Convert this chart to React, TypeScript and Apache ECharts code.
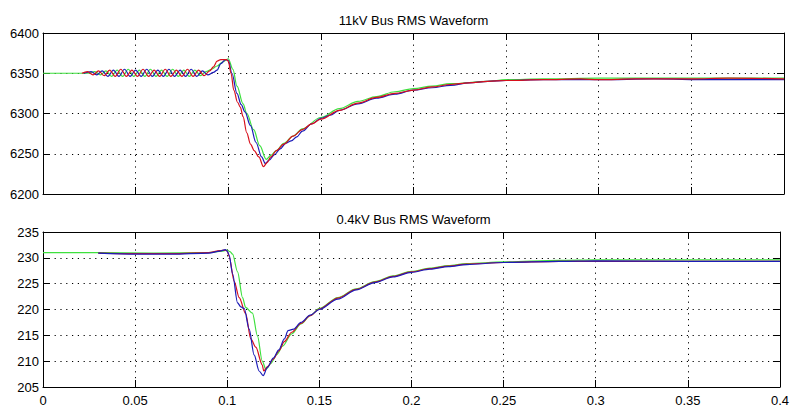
import React, { useEffect, useRef } from "react";
import * as echarts from "echarts";

const xTicks = { min: 0, max: 0.4, interval: 0.05 };
const topTitle = "11kV Bus RMS Waveform";
const bottomTitle = "0.4kV Bus RMS Waveform";

const redTop: number[][] = [
  [0.021, 6350], [0.024, 6352], [0.027, 6348], [0.030, 6353], [0.033, 6347], [0.036, 6354], [0.039, 6346],
  [0.042, 6355], [0.045, 6346], [0.048, 6354], [0.051, 6346], [0.054, 6355], [0.057, 6346], [0.060, 6354],
  [0.063, 6346], [0.066, 6355], [0.069, 6346], [0.072, 6354], [0.075, 6346], [0.078, 6355], [0.081, 6346],
  [0.084, 6354], [0.087, 6347], [0.090, 6353], [0.092, 6358], [0.094, 6365], [0.096, 6367], [0.099, 6367],
  [0.100, 6365], [0.1015, 6350], [0.103, 6329], [0.105, 6314], [0.1065, 6308], [0.108, 6296], [0.110, 6276],
  [0.112, 6262], [0.114, 6254], [0.1165, 6246], [0.119, 6234], [0.121, 6239], [0.123, 6246], [0.126, 6254],
  [0.13, 6262], [0.135, 6272], [0.14, 6280], [0.145, 6287], [0.15, 6293], [0.16, 6304], [0.17, 6313],
  [0.18, 6320], [0.19, 6325], [0.2, 6329], [0.21, 6333], [0.22, 6336], [0.23, 6338], [0.24, 6340],
  [0.25, 6341], [0.27, 6342], [0.29, 6343], [0.3, 6342], [0.32, 6343], [0.35, 6343], [0.37, 6344], [0.4, 6343],
];

const blueTop: number[][] = [
  [0.022, 6350], [0.026, 6352], [0.029, 6348], [0.032, 6353], [0.035, 6346], [0.038, 6354], [0.041, 6346],
  [0.044, 6355], [0.047, 6346], [0.050, 6354], [0.053, 6346], [0.056, 6355], [0.059, 6346], [0.062, 6354],
  [0.065, 6346], [0.068, 6355], [0.071, 6346], [0.074, 6354], [0.077, 6346], [0.080, 6355], [0.083, 6346],
  [0.086, 6353], [0.089, 6348], [0.092, 6351], [0.094, 6354], [0.096, 6362], [0.0985, 6367], [0.1, 6366],
  [0.102, 6350], [0.1047, 6325], [0.107, 6311], [0.109, 6302], [0.112, 6285], [0.115, 6264], [0.118, 6246],
  [0.12, 6238], [0.122, 6242], [0.125, 6249], [0.128, 6256], [0.131, 6263], [0.134, 6266], [0.137, 6271],
  [0.14, 6278], [0.145, 6287], [0.15, 6294], [0.155, 6298], [0.16, 6304], [0.17, 6312], [0.18, 6319],
  [0.19, 6324], [0.2, 6329], [0.21, 6332], [0.22, 6335], [0.23, 6338], [0.24, 6340], [0.25, 6341],
  [0.27, 6342], [0.3, 6342], [0.33, 6343], [0.36, 6342], [0.4, 6342],
];

const greenTop: number[][] = [
  [0, 6350], [0.024, 6350], [0.028, 6352], [0.031, 6348], [0.034, 6353], [0.037, 6346], [0.040, 6354],
  [0.043, 6346], [0.046, 6355], [0.049, 6346], [0.052, 6354], [0.055, 6346], [0.058, 6355], [0.061, 6346],
  [0.064, 6354], [0.067, 6346], [0.070, 6355], [0.073, 6346], [0.076, 6354], [0.079, 6346], [0.082, 6354],
  [0.085, 6347], [0.088, 6352], [0.091, 6355], [0.094, 6359], [0.097, 6364], [0.1, 6368], [0.1025, 6355],
  [0.1047, 6334], [0.108, 6312], [0.11, 6300], [0.1137, 6280], [0.117, 6260], [0.1205, 6243], [0.123, 6248],
  [0.126, 6254], [0.13, 6263], [0.135, 6272], [0.14, 6281], [0.15, 6295], [0.16, 6306], [0.17, 6315],
  [0.18, 6321], [0.19, 6327], [0.2, 6331], [0.21, 6334], [0.22, 6337], [0.24, 6340], [0.25, 6342],
  [0.27, 6343], [0.3, 6344], [0.35, 6344], [0.4, 6344],
];

const greenBottom: number[][] = [
  [0, 231], [0.03, 231], [0.06, 230.9], [0.09, 231], [0.097, 231.3], [0.1, 231.5], [0.1015, 231.2],
  [0.1029, 230.7], [0.1056, 227.3], [0.1083, 222.3], [0.11, 220.4], [0.1137, 219.3], [0.1164, 214.9],
  [0.119, 210], [0.121, 208.4], [0.1235, 209.5], [0.127, 211.3], [0.13, 212.9], [0.135, 215.3], [0.14, 217.2],
  [0.145, 218.8], [0.15, 220.2], [0.16, 222.3], [0.17, 224], [0.18, 225.4], [0.19, 226.5], [0.2, 227.4],
  [0.21, 228], [0.22, 228.5], [0.23, 228.9], [0.25, 229.2], [0.28, 229.5], [0.3, 229.6], [0.35, 229.6], [0.4, 229.6],
];

const blueBottom: number[][] = [
  [0.03, 230.9], [0.05, 230.7], [0.07, 230.7], [0.09, 230.9], [0.096, 231.3], [0.099, 231.6], [0.1, 231.3],
  [0.101, 230.6], [0.1029, 226.9], [0.1056, 221.3], [0.1074, 220.5], [0.1092, 220.2], [0.1119, 216.2],
  [0.1146, 211.2], [0.1173, 208.1], [0.1195, 207.2], [0.1218, 208.8], [0.125, 210.6], [0.128, 212.2],
  [0.131, 214.3], [0.133, 215.9], [0.136, 216.2], [0.14, 217.5], [0.145, 218.9], [0.15, 220], [0.16, 222],
  [0.17, 223.8], [0.18, 225.2], [0.19, 226.3], [0.2, 227.2], [0.21, 227.8], [0.22, 228.3], [0.23, 228.7],
  [0.25, 229.1], [0.28, 229.3], [0.3, 229.4], [0.35, 229.3], [0.4, 229.3],
];

const redBottom: number[][] = [
  [0.03, 230.9], [0.05, 230.8], [0.07, 230.8], [0.09, 231], [0.096, 231.4], [0.099, 231.5], [0.1, 231.3],
  [0.101, 230.3], [0.1038, 225.4], [0.1065, 222.3], [0.11, 219.2], [0.1128, 214.3], [0.1155, 212.7],
  [0.119, 209.3], [0.1198, 208.1], [0.122, 209], [0.125, 210.4], [0.128, 212], [0.131, 213.8], [0.135, 215.6],
  [0.14, 217.3], [0.145, 218.8], [0.15, 220.1], [0.16, 222.2], [0.17, 223.9], [0.18, 225.3], [0.19, 226.4],
  [0.2, 227.3], [0.21, 227.9], [0.22, 228.4], [0.23, 228.8], [0.25, 229.1], [0.28, 229.3], [0.3, 229.3],
  [0.35, 229.3], [0.4, 229.3],
];

const RED = "#d8101c";
const BLUE = "#1c1cb8";
const GREEN = "#3ee03e";
const FONT = "'Liberation Sans', Arial, sans-serif";

export default function App() {
  const ref = useRef<HTMLDivElement>(null);
  useEffect(() => {
    if (!ref.current) return;
    const chart = echarts.init(ref.current, null, { renderer: "svg" });
    const dotted = { show: true, lineStyle: { color: "#000", width: 1, type: [1.2, 4.6] as any } };
    const axLine = { show: true, onZero: false, lineStyle: { color: "#000", width: 1 } };
    const tick = { show: true, inside: true, length: 7, lineStyle: { color: "#000" } };
    const labelStyle = { color: "#000", fontSize: 13, fontFamily: FONT };
    const fmt = (v: number) => String(+Number(v).toFixed(3));
    const mkX = (grid: number, pos: string, labels: boolean, split: boolean) => ({
      type: "value", gridIndex: grid, position: pos, ...xTicks,
      axisLine: axLine, axisTick: tick, splitLine: split ? dotted : { show: false },
      axisLabel: labels ? { ...labelStyle, margin: 7, showMinLabel: true, showMaxLabel: true, formatter: fmt } : { show: false },
    });
    const mkY = (grid: number, pos: string, min: number, max: number, interval: number, labels: boolean, split: boolean) => ({
      type: "value", gridIndex: grid, position: pos, min, max, interval,
      axisLine: axLine, axisTick: tick, splitLine: split ? dotted : { show: false },
      axisLabel: labels ? { ...labelStyle, margin: 4, formatter: fmt } : { show: false },
    });
    const line = (data: number[][], color: string, xi: number, yi: number, smooth: number) => ({
      type: "line", data, xAxisIndex: xi, yAxisIndex: yi, showSymbol: false, smooth,
      smoothMonotone: "x", lineStyle: { color, width: 1.2 }, itemStyle: { color }, silent: true,
    });
    chart.setOption({
      animation: false,
      backgroundColor: "#fff",
      grid: [
        { left: 43, right: 8, top: 33, height: 161 },
        { left: 43, right: 8, top: 232, height: 161 },
      ],
      xAxis: [
        mkX(0, "bottom", false, true),
        mkX(0, "top", false, false),
        mkX(1, "bottom", true, true),
        mkX(1, "top", false, false),
      ],
      yAxis: [
        mkY(0, "left", 6200, 6400, 50, true, true),
        mkY(0, "right", 6200, 6400, 50, false, false),
        mkY(1, "left", 205, 235, 5, true, true),
        mkY(1, "right", 205, 235, 5, false, false),
      ],
      graphic: [
        { type: "text", x: 413.5, y: 20.5, style: { text: topTitle, fill: "#000", fontSize: 13, fontFamily: FONT, align: "center", verticalAlign: "middle" } },
        { type: "text", x: 413.5, y: 219, style: { text: bottomTitle, fill: "#000", fontSize: 13, fontFamily: FONT, align: "center", verticalAlign: "middle" } },
      ],
      series: [
        line(greenTop, GREEN, 0, 0, 0.35),
        line(blueTop, BLUE, 0, 0, 0.35),
        line(redTop, RED, 0, 0, 0.35),
        line(greenBottom, GREEN, 2, 2, 0.3),
        line(redBottom, RED, 2, 2, 0.3),
        line(blueBottom, BLUE, 2, 2, 0.3),
      ],
    });
    return () => chart.dispose();
  }, []);
  return <div ref={ref} style={{ position: "fixed", left: 0, top: 0, width: 792, height: 407, background: "#fff" }} />;
}
